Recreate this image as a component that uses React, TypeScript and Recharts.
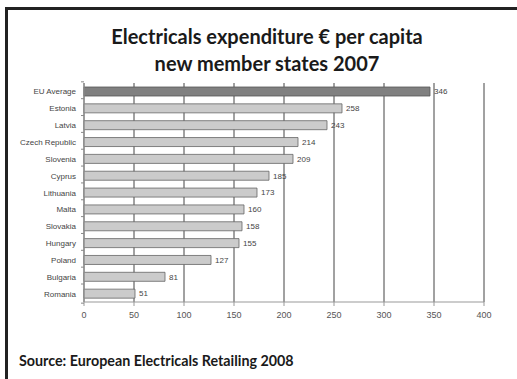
import React from 'react';
import { BarChart, Bar, XAxis, YAxis, CartesianGrid, Cell, LabelList } from 'recharts';

const countries = [
  'EU Average', 'Estonia', 'Latvia', 'Czech Republic', 'Slovenia', 'Cyprus', 'Lithuania',
  'Malta', 'Slovakia', 'Hungary', 'Poland', 'Bulgaria', 'Romania',
];
const spend = [346, 258, 243, 214, 209, 185, 173, 160, 158, 155, 127, 81, 51];
const xTicks = [0, 50, 100, 150, 200, 250, 300, 350, 400];

const W = 517;
const H = 379;
const M = { top: 83, right: 33, bottom: 47, left: 6 };
const yAxisW = 78;
const band = (H - M.top - M.bottom) / countries.length;

const axisFont = '"Liberation Sans", Arial, sans-serif';
const titleFont = 'Lato, "Open Sans", sans-serif';

// category tick: label + small tick mark at the band boundary
const CountryTick = (props: any) => {
  const { y, payload, index } = props;
  const ax = M.left + yAxisW;
  const top = y - band / 2;
  return (
    <g>
      <line x1={ax - 3} x2={ax} y1={top} y2={top} stroke="#888" />
      {index === countries.length - 1 && (
        <line x1={ax - 3} x2={ax} y1={top + band} y2={top + band} stroke="#888" />
      )}
      <text x={ax - 8} y={y} dy={3} textAnchor="end" fontSize={8} fill="#444" fontFamily={axisFont}>
        {payload.value}
      </text>
    </g>
  );
};

export default function App() {
  const data = countries.map((c, i) => ({ name: c, value: spend[i] }));

  return (
    <div style={{ position: 'absolute', left: 0, top: 0, width: W, height: H, background: '#fff', overflow: 'hidden' }}>
      <div style={{ position: 'absolute', left: 5, top: 7, width: W - 5, height: 3, background: '#222' }} />
      <div style={{ position: 'absolute', left: 5, top: 7, width: 3, height: H - 7, background: '#222' }} />

      <div
        style={{
          position: 'absolute', left: 0, top: 23, width: 534, textAlign: 'center',
          fontFamily: titleFont, fontWeight: 700, fontSize: 20, lineHeight: '27px', color: '#1a1a1a',
        }}
      >
        Electricals expenditure € per capita
        <br />
        new member states 2007
      </div>

      <BarChart
        width={W}
        height={H}
        data={data}
        layout="vertical"
        margin={M}
        style={{ position: 'absolute', left: 0, top: 0 }}
      >
        <CartesianGrid horizontal={false} stroke="#444" strokeWidth={1} />
        <XAxis
          type="number"
          domain={[0, 400]}
          ticks={xTicks}
          tickSize={4}
          tickMargin={6}
          axisLine={{ stroke: '#999' }}
          tickLine={{ stroke: '#999' }}
          tick={{ fontSize: 9, fill: '#555', fontFamily: axisFont }}
        />
        <XAxis
          xAxisId="top"
          orientation="top"
          type="number"
          domain={[0, 400]}
          height={0}
          tick={false}
          tickLine={false}
          axisLine={{ stroke: '#bbb' }}
        />
        <YAxis
          type="category"
          dataKey="name"
          width={yAxisW}
          interval={0}
          axisLine={{ stroke: '#999' }}
          tickLine={false}
          tick={<CountryTick />}
        />
        <Bar dataKey="value" barSize={9} stroke="#666" strokeWidth={0.8} isAnimationActive={false}>
          {data.map((d, i) => (
            <Cell key={d.name} fill={i === 0 ? '#808080' : '#cbcbcb'} stroke={i === 0 ? '#555' : '#666'} />
          ))}
          <LabelList dataKey="value" position="right" offset={4} fontSize={8} fill="#444" fontFamily={axisFont} />
        </Bar>
      </BarChart>

      <div
        style={{
          position: 'absolute', left: 19, top: 352, fontFamily: titleFont, fontWeight: 700,
          fontSize: 14.3, lineHeight: '17px', color: '#1a1a1a', whiteSpace: 'nowrap',
        }}
      >
        Source: European Electricals Retailing 2008
      </div>
    </div>
  );
}
